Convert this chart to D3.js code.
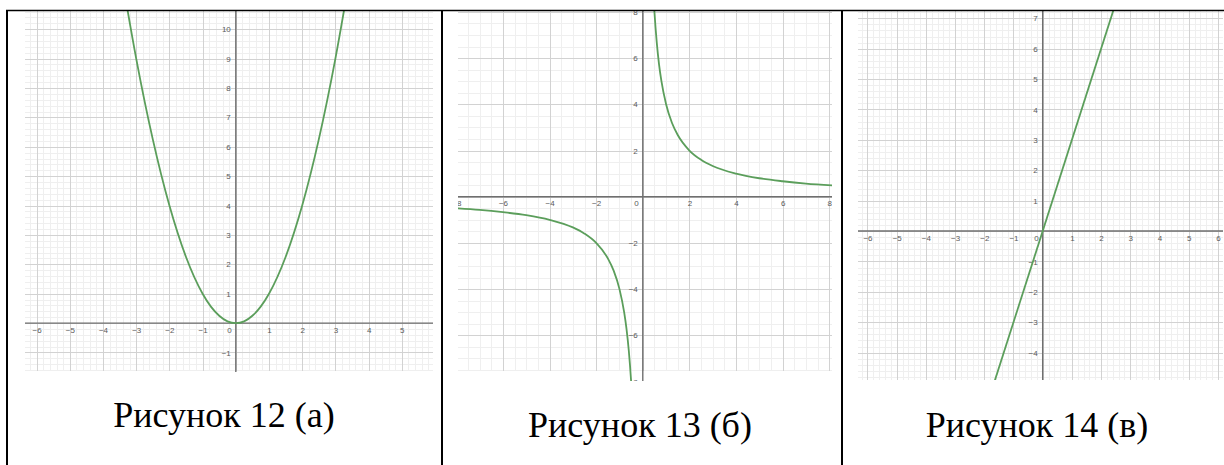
<!DOCTYPE html>
<html>
<head>
<meta charset="utf-8">
<script src="https://cdn.jsdelivr.net/npm/d3@7"></script>
<style>
  html, body { margin: 0; padding: 0; background: #fff; }
  svg { display: block; }
</style>
</head>
<body>
<svg id="chart" width="1224" height="465"></svg>
<script>
// Рисунок 12 (а): parabola
var parabolaX = [-3.4, -3, -2.5, -2, -1.5, -1, -0.75, -0.5, -0.25, 0, 0.25, 0.5, 0.75, 1, 1.5, 2, 2.5, 3, 3.4];
var parabolaY = [11.56, 9, 6.25, 4, 2.25, 1, 0.56, 0.25, 0.06, 0, 0.06, 0.25, 0.56, 1, 2.25, 4, 6.25, 9, 11.56];

// Рисунок 13 (б): hyperbola, two branches
var hypLeftX = [-8.2, -7, -6, -5, -4, -3, -2.5, -2, -1.5, -1.25, -1, -0.8, -0.7, -0.6, -0.5, -0.48];
var hypLeftY = [-0.49, -0.57, -0.67, -0.8, -1, -1.33, -1.6, -2, -2.67, -3.2, -4, -5, -5.71, -6.67, -8, -8.33];
var hypRightX = [0.48, 0.5, 0.6, 0.7, 0.8, 1, 1.25, 1.5, 2, 2.5, 3, 4, 5, 6, 7, 8.2];
var hypRightY = [8.33, 8, 6.67, 5.71, 5, 4, 3.2, 2.67, 2, 1.6, 1.33, 1, 0.8, 0.67, 0.57, 0.49];

// Рисунок 14 (в): straight line through the origin
var lineX = [-1.8, 2.6];
var lineY = [-5.4, 7.8];

// tick labels
var xTicksA = [-6, -5, -4, -3, -2, -1, 1, 2, 3, 4, 5, 6];
var yTicksA = [-1, 1, 2, 3, 4, 5, 6, 7, 8, 9, 10];
var xTicksB = [-8, -6, -4, -2, 2, 4, 6, 8];
var yTicksB = [-8, -6, -4, -2, 2, 4, 6, 8];
var xTicksC = [-6, -5, -4, -3, -2, -1, 1, 2, 3, 4, 5, 6];
var yTicksC = [-5, -4, -3, -2, -1, 1, 2, 3, 4, 5, 6, 7];

var captions = ["Рисунок 12 (а)", "Рисунок 13 (б)", "Рисунок 14 (в)"];

var svg = d3.select('#chart');

var green = '#5b9e5b',
    axisColor = '#6f6f6f',
    majorColor = '#d2d2d2',
    minorColor = '#efefef',
    labelColor = '#5a5a5a';

// pixel boxes of the three screenshots inside the table
var panels = [
    { left: 25, right: 433, top: 11, bottom: 371, extra: 372, xDomain: [-6.35, 5.94], yDomain: [-1.63, 10.62],
      step: 1, minorDiv: 5, xTicks: xTicksA, yTicks: yTicksA,
      series: [[parabolaX, parabolaY]], caption: captions[0], capX: 224, capY: 427 },
    { left: 458, right: 832, top: 11, bottom: 371, extra: 381, xDomain: [-7.93, 8.12], yDomain: [-7.545, 8.04],
      step: 2, minorDiv: 4, xTicks: xTicksB, yTicks: yTicksB,
      series: [[hypLeftX, hypLeftY], [hypRightX, hypRightY]], caption: captions[1], capX: 640, capY: 437 },
    { left: 858, right: 1223, top: 11, bottom: 380, extra: 380, xDomain: [-6.325, 6.175], yDomain: [-4.9, 7.24],
      step: 1, minorDiv: 5, xTicks: xTicksC, yTicks: yTicksC,
      series: [[lineX, lineY]], caption: captions[2], capX: 1037, capY: 437 }
];

panels.forEach(function(p, k) {
    var x = d3.scaleLinear().domain(p.xDomain).range([p.left, p.right]);
    var y = d3.scaleLinear().domain(p.yDomain).range([p.bottom, p.top]);

    var g = svg.append('g');

    var defs = svg.append('defs');
    defs.append('clipPath').attr('id', 'grid-' + k)
        .append('rect')
        .attr('x', p.left).attr('y', p.top)
        .attr('width', p.right - p.left).attr('height', p.bottom - p.top);
    defs.append('clipPath').attr('id', 'plot-' + k)
        .append('rect')
        .attr('x', p.left).attr('y', p.top)
        .attr('width', p.right - p.left).attr('height', p.extra - p.top);

    var grid = g.append('g').attr('clip-path', 'url(#grid-' + k + ')');
    var sub = p.step / p.minorDiv;

    // minor first, then major on top
    [false, true].forEach(function(isMajor) {
        var xi = d3.range(Math.ceil(p.xDomain[0] / sub), Math.floor(p.xDomain[1] / sub) + 1)
            .filter(function(i) { return (i % p.minorDiv === 0) === isMajor; });
        var yi = d3.range(Math.ceil(p.yDomain[0] / sub), Math.floor(p.yDomain[1] / sub) + 1)
            .filter(function(i) { return (i % p.minorDiv === 0) === isMajor; });

        grid.selectAll(null).data(xi).enter().append('line')
            .attr('x1', function(i) { return Math.round(x(i * sub)) + 0.5; })
            .attr('x2', function(i) { return Math.round(x(i * sub)) + 0.5; })
            .attr('y1', p.top).attr('y2', p.bottom)
            .attr('stroke', isMajor ? majorColor : minorColor)
            .attr('stroke-width', 1);

        grid.selectAll(null).data(yi).enter().append('line')
            .attr('y1', function(i) { return Math.round(y(i * sub)) + 0.5; })
            .attr('y2', function(i) { return Math.round(y(i * sub)) + 0.5; })
            .attr('x1', p.left).attr('x2', p.right)
            .attr('stroke', isMajor ? majorColor : minorColor)
            .attr('stroke-width', 1);
    });

    var plot = g.append('g').attr('clip-path', 'url(#plot-' + k + ')');

    // axes
    plot.append('line')
        .attr('x1', p.left).attr('x2', p.right)
        .attr('y1', y(0)).attr('y2', y(0))
        .attr('stroke', axisColor).attr('stroke-width', 1.4);
    plot.append('line')
        .attr('x1', x(0)).attr('x2', x(0))
        .attr('y1', p.top).attr('y2', p.extra)
        .attr('stroke', axisColor).attr('stroke-width', 1.4);

    var fmt = d3.format('d');

    var xAxis = plot.append('g')
        .attr('transform', 'translate(0,' + y(0) + ')')
        .call(d3.axisBottom(x).tickValues(p.xTicks).tickSize(0).tickPadding(4).tickFormat(fmt));
    var yAxis = plot.append('g')
        .attr('transform', 'translate(' + x(0) + ',0)')
        .call(d3.axisLeft(y).tickValues(p.yTicks).tickSize(0).tickPadding(5).tickFormat(fmt));

    [xAxis, yAxis].forEach(function(a) {
        a.select('.domain').remove();
        a.attr('font-family', '"Liberation Sans", Arial, sans-serif').attr('font-size', 8);
        a.selectAll('text').attr('fill', labelColor);
    });

    plot.append('text')
        .attr('x', x(0) - 4).attr('y', y(0) + 4)
        .attr('dy', '0.71em')
        .attr('text-anchor', 'end')
        .attr('font-family', '"Liberation Sans", Arial, sans-serif')
        .attr('font-size', 8)
        .attr('fill', labelColor)
        .text('0');

    // function graphs
    var line = d3.line()
        .x(function(d) { return x(d[0]); })
        .y(function(d) { return y(d[1]); })
        .curve(d3.curveMonotoneX);

    p.series.forEach(function(s) {
        var pts = d3.zip(s[0], s[1]);
        plot.append('path')
            .attr('d', line(pts))
            .attr('fill', 'none')
            .attr('stroke', green)
            .attr('stroke-width', 1.8);
    });

    svg.append('text')
        .attr('x', p.capX).attr('y', p.capY)
        .attr('text-anchor', 'middle')
        .attr('font-family', '"Liberation Serif", "Times New Roman", serif')
        .attr('font-size', 36)
        .attr('fill', '#000')
        .text(p.caption);
});

// table borders
var borders = svg.append('g').attr('stroke', '#000');
borders.append('line').attr('x1', 6).attr('x2', 1224).attr('y1', 10.5).attr('y2', 10.5).attr('stroke-width', 1.6);
[7, 442, 842].forEach(function(bx) {
    borders.append('line')
        .attr('x1', bx).attr('x2', bx)
        .attr('y1', 10).attr('y2', 465)
        .attr('stroke-width', 2);
});
</script>
</body>
</html>
